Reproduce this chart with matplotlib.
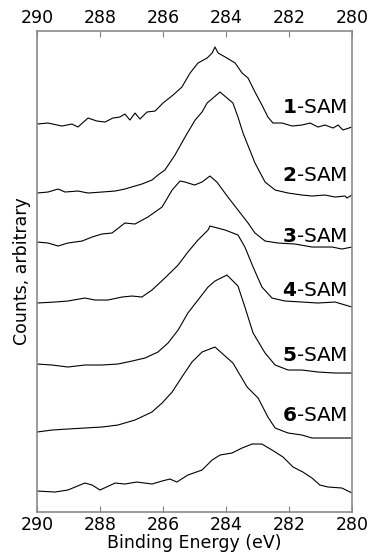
import matplotlib
matplotlib.use('Agg')
import matplotlib.pyplot as plt

plt.rcParams['font.family'] = ['DejaVu Sans']
plt.rcParams['mathtext.fontset'] = 'dejavusans'

# Espectros C 1s (energia de enlace en eV, cuentas arbitrarias con desplazamiento)
e1 = [290.00, 289.65, 289.21, 288.89, 288.70, 288.38, 288.10, 287.84, 287.59, 287.37,
      287.21, 287.05, 286.89, 286.73, 286.51, 286.25, 286.00, 285.68, 285.40, 285.14,
      284.89, 284.60, 284.44, 284.35, 284.25, 283.97, 283.71, 283.49, 283.30, 283.08,
      282.86, 282.67, 282.51, 282.22, 281.90, 281.59, 281.33, 281.08, 280.86, 280.60,
      280.44, 280.29, 280.00]
c1 = [388, 389, 386, 388, 385, 394, 391, 390, 394, 395,
      398, 392, 399, 393, 400, 401, 409, 417, 425, 439,
      449, 454, 459, 465, 459, 454, 449, 439, 434, 420,
      407, 395, 389, 389, 386, 387, 389, 385, 387, 384,
      387, 382, 385]

e2 = [290.00, 289.65, 289.33, 289.11, 288.70, 288.38, 287.94, 287.52, 287.21, 286.89,
      286.67, 286.35, 286.16, 285.94, 285.62, 285.30, 284.98, 284.76, 284.60, 284.19,
      283.78, 283.62, 283.46, 283.08, 282.76, 282.44, 282.03, 281.59, 281.27, 280.86,
      280.54, 280.22, 280.16, 280.00]
c2 = [319, 320, 323, 320, 321, 319, 320, 321, 323, 326,
      328, 332, 337, 342, 357, 375, 392, 400, 409, 420,
      409, 395, 379, 349, 330, 322, 319, 317, 316, 317,
      315, 316, 314, 317]

e3 = [290.00, 289.65, 289.33, 289.02, 288.57, 288.25, 287.94, 287.62, 287.21, 286.89,
      286.48, 286.03, 285.71, 285.46, 285.30, 285.00, 284.76, 284.51, 284.29, 283.94,
      283.62, 283.30, 283.08, 282.76, 282.35, 281.81, 281.27, 280.95, 280.63, 280.32,
      280.00]
c3 = [270, 269, 266, 269, 271, 275, 278, 279, 289, 288,
      295, 305, 322, 331, 330, 327, 330, 336, 330, 315,
      302, 289, 279, 271, 269, 268, 265, 265, 265, 263,
      265]

e4 = [290.00, 289.43, 289.02, 288.48, 288.16, 287.75, 287.30, 286.98, 286.67, 286.35,
      285.94, 285.52, 285.21, 284.89, 284.57, 284.51, 284.03, 283.78, 283.62, 283.40,
      283.14, 282.86, 282.54, 282.13, 281.59, 281.08, 280.54, 280.00]
c4 = [209, 210, 211, 214, 212, 212, 215, 216, 215, 222,
      234, 247, 260, 272, 282, 286, 282, 279, 277, 265,
      245, 225, 214, 211, 210, 209, 210, 205]

e5 = [290.00, 289.52, 289.02, 288.48, 287.94, 287.43, 286.98, 286.57, 286.16, 285.84,
      285.52, 285.21, 284.89, 284.57, 284.35, 283.97, 283.62, 283.40, 283.14, 282.76,
      282.44, 282.03, 281.59, 281.08, 280.54, 280.00]
c5 = [148, 147, 145, 147, 147, 148, 151, 154, 160, 169,
      182, 199, 212, 225, 231, 237, 226, 205, 179, 159,
      147, 142, 142, 140, 139, 139]

e6 = [290.00, 289.52, 289.02, 288.48, 287.94, 287.43, 286.89, 286.35, 286.03, 285.71,
      285.40, 285.08, 284.76, 284.35, 283.78, 283.33, 282.98, 282.67, 282.44, 282.03,
      281.59, 281.27, 280.54, 280.00]
c6 = [80, 82, 83, 84, 85, 87, 92, 100, 109, 120,
      135, 150, 160, 165, 149, 125, 114, 95, 84, 79,
      77, 74, 74, 74]

e7 = [290.00, 289.43, 289.02, 288.48, 288.25, 288.00, 287.52, 287.21, 286.83, 286.35,
      286.03, 285.78, 285.56, 285.21, 284.76, 284.44, 284.19, 283.81, 283.49, 283.17,
      282.86, 282.54, 282.19, 281.87, 281.56, 281.27, 281.02, 280.76, 280.32, 280.00]
c7 = [21, 20, 22, 29, 27, 22, 29, 28, 30, 28,
      31, 33, 30, 37, 42, 52, 57, 59, 64, 68,
      68, 62, 55, 45, 40, 34, 27, 25, 24, 19]

energias = [e1, e2, e3, e4, e5, e6, e7]
cuentas = [c1, c2, c3, c4, c5, c6, c7]
etiquetas = ['1', '2', '3', '4', '5', '6']
pos_etiqueta = [405, 337, 276, 222, 157, 97]

fig = plt.figure(figsize=(3.73, 5.56), dpi=100)
ax = fig.add_axes([0.0992, 0.0791, 0.8445, 0.8651])

for e, c in zip(energias, cuentas):
    ax.plot(e, c, color='black', linewidth=0.8)

for num, y in zip(etiquetas, pos_etiqueta):
    ax.text(280.15, y, r'$\mathbf{' + num + '}$-SAM', ha='right', va='center',
            fontsize=14.5)

ax.set_xlim(290, 280)
ax.set_ylim(0, 481)
ax.set_xticks([290, 288, 286, 284, 282, 280])
ax.set_yticks([])
ax.tick_params(axis='x', direction='in', length=4, width=0.8, color='#808080',
               top=True, labeltop=True, labelsize=12.5, pad=3)
for s in ax.spines.values():
    s.set_color('#8a8a8a')
    s.set_linewidth(1.2)

ax.set_xlabel('Binding Energy (eV)', fontsize=12.5, labelpad=0)
ax.set_ylabel('Counts, arbitrary', fontsize=12.5, labelpad=4)

fig.savefig('out.png', dpi=100)
